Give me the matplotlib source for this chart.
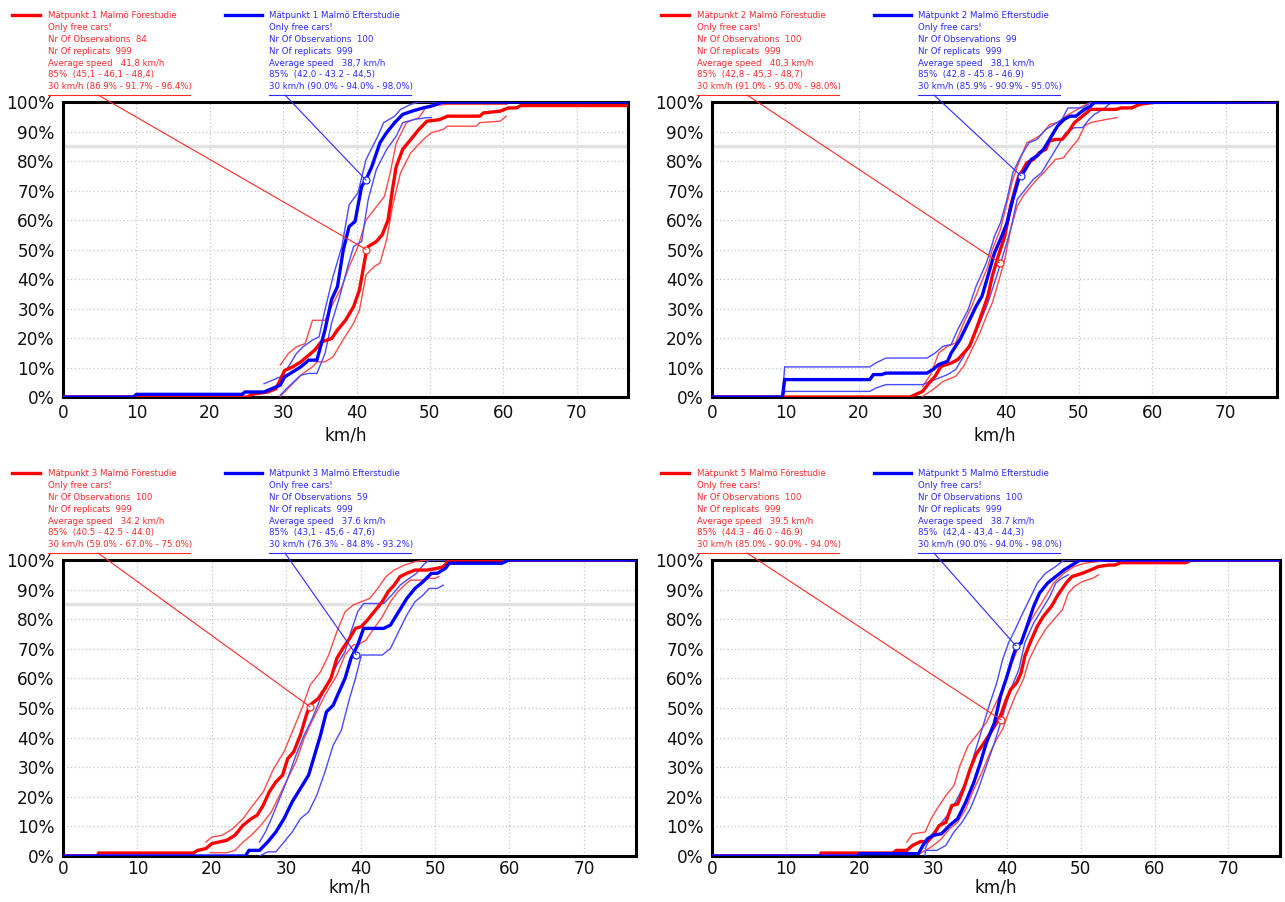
import matplotlib
matplotlib.use("Agg")
import matplotlib.pyplot as plt
from matplotlib.lines import Line2D
from matplotlib.patches import ConnectionPatch

# ---- Mätpunkt 1 ----
p1_red_x = [0, 25.2, 25.7, 27.9, 29.0, 29.6, 30.2, 31.3, 32.4, 33.5, 34.3, 35.2, 36.0, 36.6, 37.4, 38.5, 39.6, 40.4,
            41.3, 41.6, 42.7, 43.5, 44.3, 44.9, 45.4, 46.3, 47.4, 48.5, 49.6, 51.3, 52.4, 56.8, 57.3, 59.6, 60.7,
            61.8, 62.4, 77]
p1_red_y = [0, 0, 0.9, 1.7, 2.8, 5.7, 9.0, 10.2, 11.9, 14.2, 15.9, 18.7, 19.3, 19.8, 22.7, 26.0, 30.6, 36.3,
            48.8, 51.0, 52.7, 55.0, 60.0, 70.3, 78.0, 84.0, 87.3, 90.7, 93.5, 94.0, 95.2, 95.2, 96.3, 96.9, 98.0,
            98.0, 98.8, 98.8]
p1_red_hi_x = [29.6, 30.7, 31.8, 33.0, 34.0, 35.7, 36.8, 38.0, 39.0, 40.2, 41.3, 42.4, 43.8, 44.6, 45.4, 46.8,
               48.5, 49.6, 52.4, 60.5]
p1_red_hi_y = [10.8, 14.7, 17.0, 18.1, 26.0, 26.0, 31.7, 37.4, 44.2, 51.0, 60.0, 63.5, 68.0, 76.0, 86.0, 93.0,
               94.7, 98.6, 99.2, 99.2]
p1_red_lo_x = [29.6, 31.3, 32.7, 34.0, 34.6, 35.7, 36.8, 38.0, 39.6, 40.4, 41.3, 42.4, 43.2, 44.1, 44.9, 46.0,
               47.4, 49.1, 50.2, 51.8, 52.4, 56.3, 56.8, 59.6, 60.4]
p1_red_lo_y = [0.2, 4.5, 8.0, 10.2, 11.9, 11.9, 13.6, 18.7, 25.0, 29.5, 41.4, 44.2, 45.4, 53.3, 64.6, 76.0,
               82.8, 87.3, 89.6, 90.7, 91.8, 91.8, 93.0, 93.5, 95.2]
p1_blue_x = [0, 9.6, 10.0, 24.4, 24.8, 27.4, 29.6, 30.2, 31.3, 32.4, 33.5, 34.6, 35.2, 35.7, 36.6, 37.4, 38.2,
             39.0, 39.8, 40.7, 41.3, 42.1, 43.2, 44.1, 45.2, 46.3, 47.7, 49.1, 50.2, 51.8, 77]
p1_blue_y = [0, 0, 0.9, 0.9, 1.7, 1.7, 4.0, 6.8, 8.5, 10.2, 12.5, 12.5, 18.0, 22.7, 33.0, 37.4, 49.9,
             57.8, 59.5, 71.4, 73.7, 78.2, 86.2, 89.6, 93.0, 95.8, 97.0, 98.0, 98.6, 100, 100]
p1_blue_hi_x = [27.4, 29.6, 30.7, 31.8, 32.7, 34.0, 34.9, 35.7, 36.8, 38.0, 39.0, 40.2, 41.3, 42.9, 43.7, 45.2,
                46.0, 47.4, 48.5, 52.0]
p1_blue_hi_y = [4.5, 6.8, 10.2, 14.7, 17.0, 19.3, 20.4, 29.5, 40.8, 51.0, 65.2, 69.2, 80.5, 88.4, 93.0, 95.2,
                97.5, 99.2, 100, 100]
p1_blue_lo_x = [29.6, 30.7, 32.4, 33.5, 34.6, 35.7, 36.6, 37.7, 38.8, 39.6, 40.7, 41.6, 42.7, 44.1, 45.4, 46.3,
                47.9, 49.6, 50.2]
p1_blue_lo_y = [0.6, 3.4, 7.4, 8.0, 8.0, 14.7, 25.0, 34.0, 44.2, 51.0, 52.7, 67.0, 77.1, 83.9, 88.4, 93.0,
                94.1, 94.7, 94.7]
p1_marks = [(41.3, 50.0), (41.3, 73.5)]

# ---- Mätpunkt 2 ----
p2_red_x = [0, 27.0, 28.7, 29.6, 30.4, 31.2, 32.6, 33.5, 34.3, 35.1, 36.0, 36.8, 37.6, 38.2, 39.0, 39.9, 40.7,
            41.3, 41.8, 42.4, 42.9, 43.8, 44.6, 45.5, 46.0, 46.8, 47.7, 48.5, 49.4, 50.5, 51.6, 55.0, 55.8, 57.2,
            58.3, 60.5, 77]
p2_red_y = [0, 0, 1.9, 4.8, 7.0, 10.4, 11.5, 12.7, 14.9, 17.2, 22.9, 28.5, 34.2, 41.0, 47.7, 54.5, 64.7,
            70.4, 74.9, 77.1, 79.4, 80.5, 82.8, 84.0, 86.8, 87.3, 87.3, 89.6, 93.0, 95.2, 97.5, 97.5, 98.0, 98.0,
            99.2, 100, 100]
p2_red_hi_x = [28.7, 29.8, 30.9, 32.1, 33.2, 34.3, 35.4, 36.5, 37.6, 38.2, 39.3, 40.2, 41.0, 41.8, 42.9, 43.8,
               44.6, 45.5, 46.0, 47.1, 48.2, 49.4, 50.5, 51.6, 56.0]
p2_red_hi_y = [3.6, 7.6, 14.9, 17.2, 18.3, 25.1, 30.8, 37.6, 44.3, 50.0, 56.8, 65.8, 73.8, 79.4, 86.2, 87.3,
               88.5, 90.7, 92.4, 93.0, 95.2, 96.9, 98.6, 99.8, 100]
p2_red_lo_x = [28.7, 30.1, 31.5, 33.2, 34.3, 35.4, 36.5, 37.4, 38.2, 39.0, 39.9, 40.7, 41.6, 42.4, 43.5, 44.3,
               45.2, 46.0, 46.8, 47.9, 48.8, 49.9, 50.8, 51.6, 52.7, 53.8, 55.2]
p2_red_lo_y = [0.2, 2.5, 5.3, 7.0, 10.4, 16.0, 21.7, 27.4, 31.9, 38.7, 46.6, 56.8, 64.7, 68.1, 71.5, 73.8,
               76.0, 78.3, 80.5, 81.1, 84.0, 87.3, 91.9, 93.0, 93.6, 94.1, 94.7]
p2_blue_x = [0, 9.6, 9.9, 21.5, 22.0, 23.1, 23.7, 29.3, 30.1, 30.9, 32.1, 32.6, 33.8, 34.9, 36.0, 36.8, 37.6,
             38.5, 39.3, 40.2, 41.0, 41.8, 42.7, 43.5, 44.3, 45.2, 46.0, 47.1, 48.0, 48.8, 49.6, 50.2, 50.8, 51.6,
             52.1, 77]
p2_blue_y = [0, 0, 5.9, 5.9, 7.6, 7.6, 8.1, 8.1, 9.3, 11.0, 12.1, 14.9, 19.5, 25.1, 30.8, 34.2, 41.0,
             48.9, 53.4, 59.0, 67.0, 73.8, 77.1, 80.5, 81.7, 84.0, 87.3, 91.9, 94.1, 95.2, 95.2, 96.4, 97.5, 98.6,
             99.8, 100]
p2_blue_hi_x = [9.6, 9.9, 21.5, 22.3, 23.7, 29.3, 30.4, 31.5, 32.6, 33.5, 34.9, 36.0, 37.4, 38.5, 39.3, 40.2,
                41.0, 42.1, 43.2, 44.3, 45.5, 46.3, 47.7, 48.5, 50.5, 51.6, 56.0]
p2_blue_hi_y = [0, 10.2, 10.2, 11.5, 13.2, 13.2, 14.9, 17.2, 17.8, 22.9, 29.6, 37.6, 45.5, 54.5, 59.0, 67.0,
                76.0, 81.7, 86.2, 87.3, 90.7, 91.9, 94.1, 98.0, 98.0, 99.8, 100]
p2_blue_lo_x = [9.6, 9.9, 21.5, 22.3, 23.7, 28.7, 30.4, 32.1, 33.2, 34.3, 35.4, 36.5, 37.6, 38.8, 39.9, 40.7,
                41.6, 42.7, 43.8, 44.9, 46.0, 47.1, 48.2, 49.4, 50.5, 51.4, 52.1, 53.3, 54.4, 56.0]
p2_blue_lo_y = [0, 1.9, 1.9, 3.0, 4.2, 4.2, 5.9, 7.6, 9.3, 13.8, 19.5, 25.1, 31.9, 41.0, 50.0, 56.8,
                67.0, 70.4, 73.8, 76.0, 80.5, 85.0, 89.6, 91.3, 91.3, 94.1, 95.8, 97.5, 99.8, 100]
p2_marks = [(39.2, 45.5), (42.1, 75.0)]

# ---- Mätpunkt 3 ----
p3_red_x = [0, 4.6, 4.8, 17.5, 18.1, 19.2, 20.0, 20.9, 22.0, 23.1, 24.2, 25.3, 26.1, 26.9, 27.7, 28.6, 29.5,
            30.2, 31.0, 31.9, 32.7, 33.2, 34.3, 35.2, 36.0, 36.8, 37.6, 38.5, 39.3, 40.1, 40.9, 41.8, 42.9, 43.7,
            44.5, 45.3, 46.2, 47.3, 48.9, 50.3, 51.1, 51.9, 77]
p3_red_y = [0, 0, 1.0, 1.0, 1.9, 2.5, 4.2, 4.7, 5.3, 7.0, 10.4, 12.6, 13.8, 17.1, 21.6, 25.0, 27.3,
            32.9, 35.2, 40.8, 47.6, 51.0, 53.2, 56.6, 60.0, 66.8, 70.1, 73.5, 76.9, 77.5, 79.7, 82.5, 85.9, 89.3,
            91.5, 94.4, 95.5, 96.6, 96.6, 97.2, 97.7, 100, 100]
p3_red_hi_x = [19.2, 20.0, 21.4, 22.8, 24.2, 25.5, 26.9, 28.3, 29.7, 30.8, 32.1, 33.2, 34.6, 35.7, 36.8, 37.9,
               39.0, 40.1, 41.2, 42.3, 43.4, 44.5, 45.9, 47.3, 48.9, 52.0]
p3_red_hi_y = [4.7, 6.4, 7.0, 9.2, 12.6, 17.1, 21.6, 29.5, 35.2, 41.9, 49.8, 57.7, 62.2, 67.9, 75.8, 82.5,
               84.8, 85.9, 87.0, 90.4, 94.4, 96.6, 98.3, 99.4, 100, 100]
p3_red_lo_x = [19.8, 22.0, 23.1, 24.2, 25.3, 26.6, 28.0, 29.1, 30.2, 31.3, 32.4, 33.2, 34.3, 35.2, 36.0, 36.8,
               37.9, 39.0, 39.8, 40.7, 41.8, 42.9, 44.0, 45.0, 45.9, 46.7, 48.4, 49.2, 50.0, 50.5]
p3_red_lo_y = [1.1, 1.1, 1.9, 4.7, 7.0, 10.4, 14.9, 20.5, 26.2, 31.8, 39.7, 44.2, 49.8, 54.3, 57.7, 61.1,
               67.9, 71.3, 71.6, 72.9, 76.9, 80.8, 85.9, 89.3, 91.5, 93.2, 93.2, 93.8, 93.8, 94.4]
p3_blue_x = [0, 24.5, 25.0, 26.4, 27.5, 28.6, 29.7, 30.8, 31.9, 33.0, 33.8, 34.6, 35.4, 36.3, 37.1, 37.9, 38.7,
             39.6, 40.4, 43.1, 44.0, 45.1, 46.2, 47.3, 48.4, 49.5, 50.3, 51.4, 51.9, 59.0, 59.9, 77]
p3_blue_y = [0, 0, 1.9, 1.9, 4.7, 8.1, 12.6, 18.3, 22.8, 27.3, 34.0, 40.8, 48.7, 50.9, 55.5, 60.0, 66.8,
             71.3, 76.9, 76.9, 78.0, 82.5, 87.0, 90.4, 92.7, 95.5, 95.5, 97.2, 98.9, 98.9, 100, 100]
p3_blue_hi_x = [26.4, 27.2, 28.0, 29.1, 30.2, 31.3, 32.4, 33.5, 34.6, 35.7, 36.8, 37.9, 38.7, 39.6, 40.4, 43.1,
                44.2, 45.3, 46.2, 47.5, 48.4, 49.2, 52.0]
p3_blue_hi_y = [4.7, 8.1, 12.6, 19.4, 26.2, 34.0, 40.8, 46.5, 53.2, 58.9, 64.5, 69.0, 75.8, 82.5, 85.3, 85.3,
                88.2, 91.5, 93.2, 95.5, 98.3, 100, 100]
p3_blue_lo_x = [26.4, 27.5, 28.6, 29.7, 30.8, 31.9, 33.0, 34.1, 35.2, 36.3, 37.4, 38.5, 39.3, 40.1, 42.9, 44.0,
                45.1, 46.2, 47.3, 48.4, 49.2, 50.3, 51.1]
p3_blue_lo_y = [0, 1.4, 1.4, 4.7, 8.1, 12.6, 14.9, 20.5, 28.4, 37.4, 42.5, 53.2, 60.0, 67.9, 67.9, 70.1,
                75.8, 81.4, 85.9, 88.2, 90.4, 90.4, 91.5]
p3_marks = [(33.2, 50.4), (39.4, 68.0)]

# ---- Mätpunkt 5 ----
p4_red_x = [0, 14.6, 14.8, 24.5, 25.0, 26.4, 27.2, 28.3, 29.2, 30.0, 30.8, 31.7, 32.5, 33.3, 34.1, 35.0, 35.8,
            36.6, 37.5, 38.3, 39.1, 39.9, 40.5, 41.3, 41.9, 42.4, 43.3, 44.1, 44.9, 46.0, 46.9, 48.0, 48.8, 50.2,
            51.3, 52.4, 53.8, 54.6, 55.5, 64.3, 64.9, 77]
p4_red_y = [0, 0, 1.0, 1.0, 1.9, 1.9, 3.6, 4.9, 4.9, 7.0, 10.3, 11.4, 17.0, 17.6, 22.6, 29.4, 34.4,
            37.2, 40.6, 43.9, 47.3, 52.9, 56.3, 58.5, 61.9, 67.5, 73.1, 77.6, 80.9, 84.3, 88.2, 92.2, 94.4, 95.5,
            96.6, 97.8, 98.3, 98.3, 99.1, 99.1, 100, 100]
p4_red_hi_x = [26.4, 27.2, 28.9, 29.7, 30.5, 31.7, 32.8, 33.6, 34.7, 35.8, 37.2, 38.3, 39.4, 40.5, 41.6, 42.4,
               43.3, 44.4, 45.5, 46.3, 47.7, 49.1, 50.5, 52.1, 54.3, 65.0]
p4_red_hi_y = [4.7, 7.5, 8.1, 12.6, 15.9, 20.4, 23.8, 30.5, 37.2, 40.6, 45.1, 50.7, 56.3, 64.1, 70.9, 75.3,
               79.8, 84.3, 88.8, 92.2, 95.5, 97.8, 98.9, 99.4, 100, 100]
p4_red_lo_x = [28.3, 29.7, 31.1, 32.2, 33.3, 34.4, 35.5, 36.6, 37.7, 38.6, 39.4, 40.2, 41.1, 42.2, 43.0, 44.1,
               45.2, 46.3, 47.5, 48.3, 49.1, 50.2, 51.6, 52.4]
p4_red_lo_y = [1.0, 3.0, 5.8, 9.2, 11.4, 15.9, 22.6, 28.3, 35.0, 39.5, 42.8, 48.4, 54.0, 59.6, 66.4, 72.0,
               76.5, 79.8, 83.2, 88.8, 91.0, 92.7, 93.8, 95.0]
p4_blue_x = [0, 19.8, 20.0, 28.0, 28.6, 29.2, 30.0, 31.1, 32.2, 33.3, 34.4, 35.5, 36.4, 37.2, 38.3, 39.1, 40.0,
             40.8, 41.3, 41.9, 42.7, 43.6, 44.4, 45.5, 46.6, 47.7, 48.8, 49.9, 77]
p4_blue_y = [0, 0, 0.8, 0.8, 3.6, 5.8, 7.0, 7.5, 10.3, 12.6, 18.2, 24.9, 31.6, 38.3, 45.1, 54.0, 60.8,
             67.5, 70.9, 72.0, 77.6, 84.3, 88.8, 92.2, 94.4, 96.6, 98.3, 100, 100]
p4_blue_hi_x = [28.9, 29.7, 30.8, 31.9, 33.0, 34.4, 35.5, 36.6, 37.7, 38.6, 39.4, 40.2, 41.1, 41.9, 43.0, 44.1,
                45.2, 46.6, 47.7, 50.0]
p4_blue_hi_y = [2.5, 7.0, 10.3, 13.7, 18.2, 24.9, 33.9, 42.8, 51.8, 58.5, 66.4, 72.0, 76.5, 80.9, 86.5, 92.2,
                95.5, 97.8, 100, 100]
p4_blue_lo_x = [28.9, 28.9, 30.5, 31.7, 32.8, 33.9, 35.0, 36.1, 37.2, 38.3, 39.4, 40.5, 41.6, 42.4, 43.6, 44.7,
                45.8, 46.6, 47.4, 48.3]
p4_blue_lo_y = [0, 1.9, 1.9, 3.6, 8.1, 11.4, 15.9, 22.6, 30.5, 38.3, 47.3, 56.3, 63.0, 72.0, 78.7, 83.2,
                87.7, 92.2, 93.8, 95.0]
p4_marks = [(39.2, 46.0), (41.2, 71.0)]

# legend texts
p1_red_text = ["Mätpunkt 1 Malmö Förestudie", "Only free cars!", "Nr Of Observations  84", "Nr Of replicats  999",
               "Average speed   41,8 km/h", "85%  (45,1 - 46,1 - 48,4)", "30 km/h (86.9% - 91.7% - 96.4%)"]
p1_blue_text = ["Mätpunkt 1 Malmö Efterstudie", "Only free cars!", "Nr Of Observations  100", "Nr Of replicats  999",
                "Average speed   38,7 km/h", "85%  (42.0 - 43.2 - 44,5)", "30 km/h (90.0% - 94.0% - 98.0%)"]
p2_red_text = ["Mätpunkt 2 Malmö Förestudie", "Only free cars!", "Nr Of Observations  100", "Nr Of replicats  999",
               "Average speed   40,3 km/h", "85%  (42,8 - 45,3 - 48,7)", "30 km/h (91.0% - 95.0% - 98.0%)"]
p2_blue_text = ["Mätpunkt 2 Malmö Efterstudie", "Only free cars!", "Nr Of Observations  99", "Nr Of replicats  999",
                "Average speed   38,1 km/h", "85%  (42.8 - 45.8 - 46.9)", "30 km/h (85.9% - 90.9% - 95.0%)"]
p3_red_text = ["Mätpunkt 3 Malmö Förestudie", "Only free cars!", "Nr Of Observations  100", "Nr Of replicats  999",
               "Average speed   34.2 km/h", "85%  (40.5 - 42.5 - 44.0)", "30 km/h (59.0% - 67.0% - 75.0%)"]
p3_blue_text = ["Mätpunkt 3 Malmö Efterstudie", "Only free cars!", "Nr Of Observations  59", "Nr Of replicats  999",
                "Average speed   37.6 km/h", "85%  (43,1 - 45,6 - 47,6)", "30 km/h (76.3% - 84.8% - 93.2%)"]
p4_red_text = ["Mätpunkt 5 Malmö Förestudie", "Only free cars!", "Nr Of Observations  100", "Nr Of replicats  999",
               "Average speed   39.5 km/h", "85%  (44.3 - 46.0 - 46.9)", "30 km/h (85.0% - 90.0% - 94.0%)"]
p4_blue_text = ["Mätpunkt 5 Malmö Efterstudie", "Only free cars!", "Nr Of Observations  100", "Nr Of replicats  999",
                "Average speed   38.7 km/h", "85%  (42,4 - 43,4 - 44,3)", "30 km/h (90.0% - 94.0% - 98.0%)"]

x_ticks = [0, 10, 20, 30, 40, 50, 60, 70]
y_ticks = [0, 10, 20, 30, 40, 50, 60, 70, 80, 90, 100]

W, H = 1285, 902
RED, BLUE = "#ff0000", "#0000ff"
RED_THIN, BLUE_THIN = "#ff4a4a", "#4a4aff"
RED_TXT, BLUE_TXT = "#ff2a2a", "#2a2aff"

plt.rcParams["font.family"] = ["DejaVu Sans"]
fig = plt.figure(figsize=(W / 100, H / 100), dpi=100)

# axes boxes in pixels: left, top, right, bottom, tick pad, xlabel pad
boxes = [(63, 102, 628, 397, 5, 3), (712, 102, 1277, 397, 5, 3),
         (63, 560, 636, 856, 3, 0), (712, 560, 1280, 856, 3, 0)]

panels = [
    dict(red=(p1_red_x, p1_red_y), red_hi=(p1_red_hi_x, p1_red_hi_y), red_lo=(p1_red_lo_x, p1_red_lo_y),
         blue=(p1_blue_x, p1_blue_y), blue_hi=(p1_blue_hi_x, p1_blue_hi_y), blue_lo=(p1_blue_lo_x, p1_blue_lo_y),
         marks=p1_marks, texts=(p1_red_text, p1_blue_text), ref85=True),
    dict(red=(p2_red_x, p2_red_y), red_hi=(p2_red_hi_x, p2_red_hi_y), red_lo=(p2_red_lo_x, p2_red_lo_y),
         blue=(p2_blue_x, p2_blue_y), blue_hi=(p2_blue_hi_x, p2_blue_hi_y), blue_lo=(p2_blue_lo_x, p2_blue_lo_y),
         marks=p2_marks, texts=(p2_red_text, p2_blue_text), ref85=True),
    dict(red=(p3_red_x, p3_red_y), red_hi=(p3_red_hi_x, p3_red_hi_y), red_lo=(p3_red_lo_x, p3_red_lo_y),
         blue=(p3_blue_x, p3_blue_y), blue_hi=(p3_blue_hi_x, p3_blue_hi_y), blue_lo=(p3_blue_lo_x, p3_blue_lo_y),
         marks=p3_marks, texts=(p3_red_text, p3_blue_text), ref85=True),
    dict(red=(p4_red_x, p4_red_y), red_hi=(p4_red_hi_x, p4_red_hi_y), red_lo=(p4_red_lo_x, p4_red_lo_y),
         blue=(p4_blue_x, p4_blue_y), blue_hi=(p4_blue_hi_x, p4_blue_hi_y), blue_lo=(p4_blue_lo_x, p4_blue_lo_y),
         marks=p4_marks, texts=(p4_red_text, p4_blue_text), ref85=False),
]


def fx(px):
    return px / W


def fy(py):
    return 1 - py / H


for (left, top, right, bottom, tpad, lpad), p in zip(boxes, panels):
    ax = fig.add_axes([fx(left), fy(bottom), (right - left) / W, (bottom - top) / H])
    ax.set_xlim(0, 77)
    ax.set_ylim(0, 100)
    ax.set_xticks(x_ticks)
    ax.set_yticks(y_ticks)
    ax.set_yticklabels([f"{t}%" for t in y_ticks])
    ax.tick_params(length=0, labelsize=12.2, labelcolor="#111111")
    ax.tick_params(axis="x", pad=tpad)
    ax.tick_params(axis="y", pad=6)
    ax.grid(True, color="#c4c4c4", linestyle=(0, (1, 2)), linewidth=0.9)
    ax.set_axisbelow(True)
    for s in ax.spines.values():
        s.set_linewidth(2.2)
        s.set_color("black")
    ax.set_xlabel("km/h", fontsize=12.2, color="#111111", labelpad=lpad)
    if p["ref85"]:
        ax.axhline(85, color="#e2e2e2", lw=2.5, zorder=1.5)

    # confidence bands (thin) then the median curves (thick)
    ax.plot(*p["red_hi"], color=RED_THIN, lw=1.0, zorder=3)
    ax.plot(*p["red_lo"], color=RED_THIN, lw=1.0, zorder=3)
    ax.plot(*p["blue_hi"], color=BLUE_THIN, lw=1.0, zorder=3)
    ax.plot(*p["blue_lo"], color=BLUE_THIN, lw=1.0, zorder=3)
    ax.plot(*p["red"], color=RED, lw=2.4, zorder=4, solid_joinstyle="miter")
    ax.plot(*p["blue"], color=BLUE, lw=2.4, zorder=5, solid_joinstyle="miter")

    # legend blocks above the axes
    for k, (lines, col, tcol, seg, tx, lead) in enumerate([
            (p["texts"][0], RED, RED_TXT, (-51, -23), -15, 35),
            (p["texts"][1], BLUE, BLUE_TXT, (162, 199), 206, 222)]):
        fig.add_artist(Line2D([fx(left + seg[0]), fx(left + seg[1])], [fy(top - 87), fy(top - 87)],
                              color=col, lw=2.4))
        for i, line in enumerate(lines):
            fig.text(fx(left + tx), fy(top - 86 + 11.8 * i), line, color=tcol, fontsize=6.2,
                     ha="left", va="center")
        fig.add_artist(Line2D([fx(left + tx), fx(left + tx + 142)], [fy(top - 7), fy(top - 7)],
                              color=tcol, lw=0.8))
        mx, my = p["marks"][k]
        con = ConnectionPatch(xyA=(fx(left + lead), fy(top - 7)), coordsA=fig.transFigure,
                              xyB=(mx, my), coordsB=ax.transData, color=tcol, lw=0.8, zorder=6)
        fig.add_artist(con)
        ax.plot([mx], [my], marker="o", ms=5, mfc="white", mec=tcol, mew=0.9, zorder=7, clip_on=False)

fig.savefig("out.png", dpi=100, facecolor="white")
